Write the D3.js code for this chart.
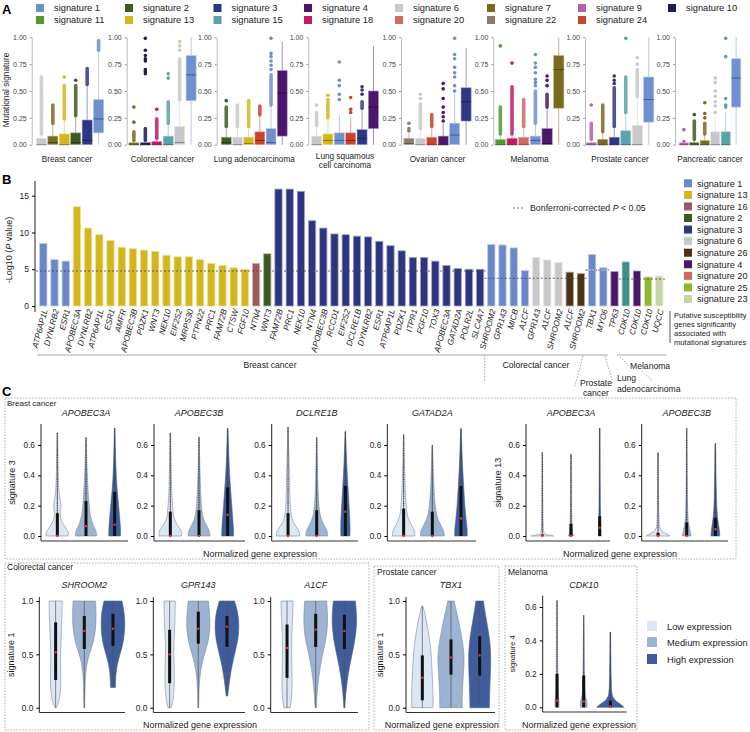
<!DOCTYPE html>
<html><head><meta charset="utf-8">
<script src="https://cdn.jsdelivr.net/npm/d3@7/dist/d3.min.js"></script>
<style>body{margin:0;background:#fff;} svg{display:block;}</style>
</head><body>
<script>
// ================= DATA =================
// Panel A
const legendRow1 = [1,2,3,4,6,7,9,10];
const legendRow2 = [11,13,15,18,20,22,24];
const aCancers = ["Breast cancer","Colorectal cancer","Lung adenocarcinoma","Lung squamous\ncell carcinoma","Ovarian cancer","Melanoma","Prostate cancer","Pancreatic cancer"];
const aSigs = [[6,7,13,2,3,1],[7,10,18,15,6,1],[2,6,13,24,1,4],[6,13,1,24,3,4],[22,6,24,4,1,3],[11,18,20,1,4,7],[9,7,3,15,6,1],[9,2,7,6,15,1]];
// [whiskerLow, q1, median, q3, whiskerHigh]
const aBoxes = [
 [[0,0,0,0.06,0.1],[0,0,0.02,0.08,0.2],[0,0,0,0.1,0.24],[0,0,0.02,0.11,0.27],[0,0,0.04,0.23,0.56],[0,0.11,0.24,0.42,0.88]],
 [[0,0,0,0.015,0.04],[0,0,0,0.02,0.04],[0,0,0,0.03,0.06],[0,0,0,0.08,0.2],[0,0,0.02,0.17,0.42],[0,0.41,0.65,0.83,1.0]],
 [[0,0,0.02,0.07,0.17],[0,0,0,0.07,0.17],[0,0,0.01,0.07,0.17],[0,0,0.04,0.12,0.28],[0,0,0.02,0.15,0.37],[0,0.08,0.48,0.69,0.96]],
 [[0,0,0,0.08,0.18],[0,0,0.04,0.1,0.25],[0,0,0.04,0.11,0.27],[0,0,0.04,0.11,0.25],[0,0,0.06,0.14,0.34],[0,0.15,0.35,0.5,0.92]],
 [[0,0,0.01,0.06,0.12],[0,0,0,0.06,0.15],[0,0,0,0.07,0.17],[0,0,0,0.08,0.2],[0,0,0.09,0.2,0.48],[0,0.22,0.4,0.53,0.9]],
 [[0,0,0,0.05,0.1],[0,0,0,0.06,0.1],[0,0,0,0.07,0.17],[0,0,0.04,0.08,0.2],[0,0,0.01,0.15,0.35],[0,0.34,0.7,0.83,1.0]],
 [[0,0,0,0.01,0.03],[0,0,0,0.05,0.12],[0,0,0,0.07,0.17],[0,0,0,0.13,0.3],[0,0,0,0.18,0.45],[0,0.21,0.42,0.63,1.0]],
 [[0,0,0,0.01,0.01],[0,0,0,0.02,0.05],[0,0,0,0.04,0.1],[0,0,0,0.12,0.25],[0,0,0,0.12,0.3],[0,0.35,0.62,0.8,1.0]]
];
// dense outlier runs [low, high]
const aBands = [
 [[0.1,0.63],[0.2,0.37],[0.24,0.55],[0.27,0.55],[0.56,0.71],[0.88,0.97]],
 [[0.04,0.12],[0.04,0.15],[0.06,0.24],[0.2,0.4],[0.42,0.8],null],
 [[0.17,0.35],[0.17,0.37],[0.17,0.41],[0.28,0.36],[0.37,0.65],null],
 [[0.18,0.3],[0.25,0.42],null,null,[0.34,0.4],null],
 [null,[0.15,0.38],[0.17,0.28],null,null,null],
 [[0.1,0.35],[0.1,0.54],[0.17,0.42],[0.2,0.5],[0.35,0.47],null],
 [[0.05,0.2],[0.12,0.37],[0.17,0.53],[0.3,0.63],[0.45,0.7],null],
 [null,[0.05,0.22],[0.1,0.2],null,null,null]
];
// isolated outliers
const aPoints = [
 [[],[],[0.63],[0.6],[],[]],
 [[0.21,0.35],[0.66,0.68,0.7,0.78,0.8,0.83,0.88,0.99],[0.33],[0.62,0.66],[0.88,0.92,0.96],[]],
 [[0.41],[],[],[],[0.7,0.74,0.78,0.82,0.85,0.99],[]],
 [[0.37],[0.46],[0.42,0.47,0.55,0.6,0.77],[0.3,0.33,0.44],[0.47,0.51,0.54],[]],
 [[0.13,0.15,0.2],[0.43,0.47],[],[0.22,0.26,0.3,0.35,0.43,0.52,0.57],[0.5,0.55,0.63,0.67,0.72,0.8,0.84,0.99],[]],
 [[0.92],[0.76],[],[0.55,0.58,0.61,0.67,0.72,0.76,0.84],[0.55,0.6,0.64],[]],
 [[0.37],[],[0.57,0.6,0.64],[0.99],[0.75,0.81],[]],
 [[0.03,0.14],[0.28],[0.25,0.29,0.39],[0.3,0.36,0.4,0.45,0.5,0.58,0.62],[0.35,0.37,0.43,0.82,0.99],[]]
];
const aTicks = [0,0.25,0.5,0.75,1];

// Panel B
const bGenes = ["ATP6AP1L","DYNLRB2","ESR1",
 "APOBEC3A","DYNLRB2","ATP6AP1L","ESR1","AMFR","APOBEC3B","PDZK1","WNT3","NEK10","EIF2S2","MRPS30","PTPN22","PRC1","FAM72B","CTSW","FGF10",
 "NTN4","WNT3",
 "FAM72B","PRC1","NEK10","NTN4","APOBEC3B","RCCD1","EIF2S2","DCLRE1B","DYNLRB2","ESR1","ATP6AP1L","PDZK1","ITPR1","FGF10","TOX3","APOBEC3A","GATAD2A","POLR2L","SLC4A7",
 "SHROOM2","GPR143","MICB","A1CF","GPR143","A1CF","SHROOM2","A1CF","SHROOM2",
 "TBX1","MYO6","TP63","CDK10","CDK10","CDK10","UQCC"];
const bSigs = [1,1,1,
 13,13,13,13,13,13,13,13,13,13,13,13,13,13,13,13,
 16,2,
 3,3,3,3,3,3,3,3,3,3,3,3,3,3,3,3,3,3,3,
 1,1,1,1,6,6,6,26,26,
 1,1,4,15,4,25,23];
const bValues = [8.5,6.3,6.1,
 13.5,10.6,9.7,8.9,8.0,7.8,7.6,7.4,6.9,6.7,6.7,6.3,5.8,5.5,5.2,5.0,
 5.8,7.1,
 15.9,15.9,15.6,11.6,10.6,9.8,9.7,9.5,9.4,8.8,8.2,7.5,6.6,6.6,6.1,5.5,5.1,5.0,5.0,
 8.35,8.3,7.9,4.8,6.6,6.25,5.9,4.6,4.4,
 7.0,5.2,4.67,6.0,4.76,3.95,4.08];
const bTicks = [0,5,10,15];
const bLegendSigs = [1,13,16,2,3,6,26,4,20,25,23];
const bGroupRanges = [[0,39],[40,48],[49,50],[51,51],[52,55]];
const bThresholds = [4.76,3.77,4.9,null,3.67];

// Panel C
const cLevels = ["Low expression","Medium expression","High expression"];
const cGenes = ["APOBEC3A","APOBEC3B","DCLRE1B","GATAD2A","APOBEC3A","APOBEC3B","SHROOM2","GPR143","A1CF","TBX1","CDK10"];
const cSigLabels = ["signature 3","","","","signature 13","","signature 1","","","signature 1","signature 4"];
const cGroups = ["Breast cancer","Colorectal cancer","Prostate cancer","Melanoma"];
// [min, q1, median, q3, max] per expression level
const cStats = [
 [[0,0,0,0.15,0.68],[0,0,0.065,0.23,0.65],[0,0,0.075,0.29,0.71]],
 [[0,0,0,0.16,0.68],[0,0,0,0.17,0.65],[0,0,0.14,0.32,0.71]],
 [[0,0,0,0.15,0.72],[0,0,0,0.17,0.65],[0,0,0.16,0.33,0.69]],
 [[0,0,0,0.18,0.67],[0,0,0,0.16,0.6],[0,0,0.115,0.33,0.71]],
 [[0,0,0,0.01,0.55],[0,0,0,0.08,0.54],[0,0,0.055,0.13,0.71]],
 [[0,0,0,0.02,0.55],[0,0,0,0.09,0.71],[0,0,0.045,0.12,0.61]],
 [[0,0.26,0.52,0.8,1],[0,0.55,0.72,0.86,1],[0.19,0.58,0.74,0.88,1]],
 [[0,0.23,0.5,0.73,1],[0,0.6,0.74,0.9,1],[0.11,0.57,0.76,0.86,1]],
 [[0,0.28,0.56,0.78,1],[0,0.57,0.73,0.88,1],[0,0.55,0.72,0.87,1]],
 [[0,0.07,0.28,0.49,0.95],[0,0.31,0.47,0.64,1],[0,0.3,0.49,0.67,1]],
 [[0,0,0.04,0.2,0.64],[0,0,0.035,0.19,0.55],[0,0,0.005,0.04,0.45]]
];
// density outline: [value, relative half-width]
const cShapes = [
 [[[0,0.85],[0.02,0.95],[0.05,0.7],[0.1,0.28],[0.15,0.2],[0.2,0.34],[0.25,0.18],[0.35,0.08],[0.5,0.06],[0.68,0.02]],
  [[0,0.85],[0.03,0.85],[0.08,0.5],[0.15,0.3],[0.25,0.2],[0.4,0.1],[0.5,0.07],[0.65,0.02]],
  [[0,0.47],[0.05,0.47],[0.1,0.42],[0.2,0.32],[0.3,0.2],[0.4,0.12],[0.55,0.06],[0.71,0.02]]],
 [[[0,0.9],[0.03,0.95],[0.07,0.55],[0.12,0.25],[0.17,0.22],[0.25,0.12],[0.4,0.08],[0.68,0.02]],
  [[0,0.87],[0.03,0.87],[0.07,0.6],[0.12,0.3],[0.2,0.18],[0.35,0.1],[0.5,0.05],[0.65,0.02]],
  [[0,0.47],[0.05,0.47],[0.12,0.4],[0.2,0.33],[0.3,0.24],[0.45,0.12],[0.6,0.06],[0.71,0.02]]],
 [[[0,0.93],[0.03,0.93],[0.07,0.55],[0.12,0.25],[0.2,0.18],[0.3,0.12],[0.38,0.15],[0.45,0.08],[0.72,0.02]],
  [[0,0.87],[0.03,0.87],[0.07,0.6],[0.12,0.3],[0.2,0.16],[0.35,0.08],[0.65,0.02]],
  [[0,0.36],[0.05,0.38],[0.12,0.35],[0.25,0.26],[0.4,0.15],[0.55,0.07],[0.69,0.02]]],
 [[[0,0.9],[0.03,0.9],[0.07,0.65],[0.12,0.3],[0.2,0.2],[0.3,0.13],[0.45,0.07],[0.67,0.02]],
  [[0,0.96],[0.03,0.96],[0.07,0.7],[0.12,0.38],[0.2,0.22],[0.35,0.1],[0.6,0.02]],
  [[0,0.5],[0.05,0.5],[0.1,0.42],[0.2,0.3],[0.35,0.2],[0.5,0.1],[0.71,0.02]]],
 [[[0,0.9],[0.005,0.6],[0.012,0.15],[0.03,0.04],[0.55,0.02]],
  [[0,0.2],[0.02,0.12],[0.1,0.05],[0.54,0.02]],
  [[0,0.1],[0.1,0.06],[0.3,0.04],[0.71,0.02]]],
 [[[0,0.95],[0.01,0.8],[0.025,0.35],[0.05,0.12],[0.1,0.05],[0.55,0.02]],
  [[0,0.35],[0.03,0.3],[0.08,0.12],[0.2,0.05],[0.71,0.02]],
  [[0,0.35],[0.04,0.33],[0.1,0.2],[0.2,0.08],[0.61,0.02]]],
 [[[0,0.05],[0.05,0.25],[0.15,0.4],[0.3,0.42],[0.45,0.38],[0.55,0.4],[0.7,0.45],[0.85,0.5],[0.95,0.52],[1,0.52]],
  [[0,0.03],[0.15,0.05],[0.3,0.08],[0.42,0.22],[0.5,0.4],[0.6,0.7],[0.72,0.9],[0.85,0.95],[0.95,0.92],[1,0.9]],
  [[0.19,0.2],[0.25,0.2],[0.35,0.26],[0.45,0.42],[0.55,0.7],[0.65,0.88],[0.78,0.97],[0.9,0.9],[1,0.72]]],
 [[[0,0.12],[0.08,0.3],[0.2,0.38],[0.35,0.38],[0.5,0.32],[0.65,0.35],[0.8,0.42],[0.95,0.45],[1,0.45]],
  [[0,0.03],[0.15,0.05],[0.3,0.12],[0.42,0.3],[0.52,0.55],[0.62,0.8],[0.75,0.95],[0.88,0.92],[1,0.8]],
  [[0.11,0.06],[0.2,0.15],[0.32,0.28],[0.45,0.5],[0.58,0.78],[0.7,0.96],[0.82,0.95],[0.92,0.82],[1,0.6]]],
 [[[0,0.25],[0.1,0.38],[0.25,0.42],[0.4,0.38],[0.55,0.36],[0.7,0.38],[0.85,0.45],[0.95,0.48],[1,0.48]],
  [[0,0.05],[0.12,0.1],[0.25,0.2],[0.38,0.35],[0.5,0.55],[0.62,0.8],[0.75,0.95],[0.88,0.95],[1,0.88]],
  [[0,0.04],[0.12,0.1],[0.25,0.22],[0.38,0.4],[0.5,0.62],[0.65,0.88],[0.8,1],[0.92,0.95],[1,0.88]]],
 [[[0,0.85],[0.1,0.86],[0.25,0.82],[0.4,0.76],[0.55,0.68],[0.7,0.5],[0.8,0.35],[0.9,0.17],[0.95,0.06]],
  [[0,0.9],[0.1,0.9],[0.25,0.95],[0.4,1.05],[0.5,1.05],[0.6,0.95],[0.75,0.72],[0.9,0.45],[1,0.25]],
  [[0,0.78],[0.15,0.8],[0.3,0.85],[0.45,0.9],[0.6,0.85],[0.75,0.65],[0.88,0.45],[1,0.3]]],
 [[[0,0.15],[0.03,0.18],[0.06,0.12],[0.1,0.08],[0.2,0.06],[0.4,0.04],[0.64,0.02]],
  [[0,0.25],[0.03,0.3],[0.06,0.15],[0.1,0.08],[0.2,0.05],[0.55,0.02]],
  [[0,1.1],[0.015,0.9],[0.035,0.45],[0.06,0.18],[0.1,0.06],[0.45,0.02]]]
];

// ================= STYLES =================
const FONT = "'Liberation Sans', Arial, Helvetica, sans-serif";
const aColors = {1:"#6f8fd0",2:"#405a26",3:"#2e3882",4:"#4b176c",6:"#c8c8c8",7:"#776b1e",9:"#b45fa8",10:"#1d1c4f",11:"#4e9b2e",13:"#d6b71a",15:"#5aa3a8",18:"#c41866",20:"#d0695f",22:"#8b7b6a",24:"#c8442a"};
const bColors = {1:"#6b87c9",13:"#d4b51c",16:"#9a5a5e",2:"#3d5a22",3:"#2e3580",6:"#c8c8c8",26:"#4a3118",4:"#4a156b",20:"#d06a60",25:"#8db830",23:"#c7d4a6",15:"#3f8f88"};
const cFill = ["#dde6f3","#9cb3d2","#3f5d9d"];

const svg = d3.select("body").append("svg").attr("width",750).attr("height",732).attr("font-family",FONT);

function T(x,y,s,size,o){
  o=o||{};
  const t=svg.append("text").attr("x",x).attr("y",y).attr("font-size",size).attr("fill",o.fill||"#222").text(s);
  if(o.anchor) t.attr("text-anchor",o.anchor);
  if(o.italic) t.attr("font-style","italic");
  if(o.bold) t.attr("font-weight","bold");
  if(o.rot!==undefined) t.attr("transform",`rotate(${o.rot},${x},${y})`);
  return t;
}

// ---------- Panel letters ----------
T(2,14,"A",13,{bold:true,fill:"#000"});
T(2,184,"B",13,{bold:true,fill:"#000"});
T(2,396,"C",13,{bold:true,fill:"#000"});

// ---------- Panel A legend ----------
const legX = [36,125,213.5,304,395,487,578,668];
[legendRow1,legendRow2].forEach((row,ri)=>{
  const yc = ri===0?8:20;
  row.forEach((s,i)=>{
    svg.append("rect").attr("x",legX[i]).attr("y",yc-4).attr("width",8).attr("height",8).attr("fill",aColors[s]);
    T(legX[i]+18,yc+3.3,"signature "+s,9.3);
  });
});

// ---------- Panel A boxplots ----------
const aY = d3.scaleLinear().domain([0,1]).range([144.7,37.3]);
const aLayout = [[31.7,35,105],[126.7,127.5,197.5],[216.7,220,288.5],[308.3,310.2,379.8],[401,402.5,472.5],[493.3,493.8,565.3],[585,584.8,655.2],[675,678,742]];
aCancers.forEach((name,i)=>{
  const [ax,r0,r1]=aLayout[i];
  const ga = svg.append("g").attr("transform",`translate(${ax},0)`)
    .call(d3.axisLeft(aY).tickValues(aTicks).tickFormat(d3.format(".2f")).tickSize(2).tickSizeOuter(0));
  ga.select(".domain").attr("stroke","#bbb");
  ga.selectAll(".tick line").attr("stroke","#999");
  ga.selectAll(".tick text").attr("font-size",7).attr("fill","#444").attr("font-family",FONT);
  const xb = d3.scaleBand().domain(d3.range(6)).range([r0,r1]).padding(0.12);
  aSigs[i].forEach((s,j)=>{
    const c = aColors[s];
    const light = d3.interpolateRgb(c,"#fff")(0.5);
    const cx = xb(j)+xb.bandwidth()/2, bw = xb.bandwidth();
    const [wl,q1,md,q3,wh] = aBoxes[i][j];
    svg.append("line").attr("x1",cx).attr("x2",cx).attr("y1",aY(wl)).attr("y2",aY(wh)).attr("stroke",light).attr("stroke-width",1);
    const band = aBands[i][j];
    if(band){
      svg.append("line").attr("x1",cx).attr("x2",cx).attr("y1",aY(band[0])).attr("y2",aY(band[1]))
        .attr("stroke",c).attr("stroke-width",3.6).attr("stroke-linecap","round").attr("opacity",0.85);
    }
    aPoints[i][j].forEach(v=>{
      svg.append("circle").attr("cx",cx).attr("cy",aY(v)).attr("r",1.8).attr("fill",c);
    });
    const yTop = aY(q3), h = Math.max(aY(q1)-aY(q3),2);
    svg.append("rect").attr("x",cx-bw/2).attr("y",Math.min(yTop,aY(q1)-2)).attr("width",bw).attr("height",h)
      .attr("fill",c).attr("stroke",light).attr("stroke-width",0.6);
    svg.append("line").attr("x1",cx-bw/2).attr("x2",cx+bw/2).attr("y1",aY(md)).attr("y2",aY(md))
      .attr("stroke",d3.color(c).darker(1.2)).attr("stroke-width",1);
  });
  const lines = name.split("\n");
  const cxl = (r0+r1)/2 + (i===0?-3:0);
  lines.forEach((l,k)=>{
    const y = lines.length===1 ? 162 : 158.7+k*9.5;
    T(cxl,y,l,8.2,{anchor:"middle"});
  });
});
T(9,90,"Mutational signature",8.3,{anchor:"middle",rot:-90});

// ---------- Panel B ----------
const bY = d3.scaleLinear().domain([0,17]).range([306,181]);
const bX = d3.scaleBand().domain(d3.range(bGenes.length)).range([37.7,37.7+11.2*bGenes.length]).paddingInner(0.35).paddingOuter(0.175);
svg.append("line").attr("x1",35).attr("x2",35).attr("y1",181).attr("y2",312).attr("stroke","#222").attr("stroke-width",1);
const gyB = svg.append("g").attr("transform","translate(35,0)")
  .call(d3.axisLeft(bY).tickValues(bTicks).tickSize(3).tickSizeOuter(0));
gyB.select(".domain").remove();
gyB.selectAll(".tick text").attr("font-size",8.5).attr("fill","#222").attr("font-family",FONT);
const yt = svg.append("text").attr("x",12).attr("y",250).attr("font-size",9).attr("fill","#222")
  .attr("text-anchor","middle").attr("transform","rotate(-90,12,250)");
yt.append("tspan").text("-Log10 (");
yt.append("tspan").attr("font-style","italic").text("P");
yt.append("tspan").text(" value)");

bGenes.forEach((g,i)=>{
  const c = bColors[bSigs[i]];
  svg.append("rect").attr("x",bX(i)).attr("y",bY(bValues[i])).attr("width",bX.bandwidth()).attr("height",bY(0)-bY(bValues[i]))
    .attr("fill",c).attr("stroke",d3.interpolateRgb(c,"#fff")(0.55)).attr("stroke-width",0.8);
  const cx = bX(i)+bX.bandwidth()/2;
  T(cx+4.5,310,g,8.2,{anchor:"end",italic:true,rot:-75});
});
// thresholds
bGroupRanges.forEach((r,k)=>{
  const th = bThresholds[k];
  if(th===null) return;
  let x1 = k===0 ? 36 : bX(r[0])-3;
  let x2 = bX(r[1])+bX.bandwidth()+2;
  const ln = svg.append("line").attr("x1",x1).attr("x2",x2).attr("y1",bY(th)).attr("y2",bY(th));
  if(k===2) ln.attr("stroke","#aaa").attr("stroke-width",2).attr("stroke-dasharray","2,1.2");
  else ln.attr("stroke","#444").attr("stroke-width",0.8).attr("stroke-dasharray","2,2");
});
// legend B
svg.append("line").attr("x1",513).attr("x2",523).attr("y1",208).attr("y2",208).attr("stroke","#444").attr("stroke-width",0.8).attr("stroke-dasharray","2,2");
const bt = svg.append("text").attr("x",530).attr("y",211).attr("font-size",8.8).attr("fill","#222");
bt.append("tspan").text("Bonferroni-corrected ");
bt.append("tspan").attr("font-style","italic").text("P");
bt.append("tspan").text(" < 0.05");
bLegendSigs.forEach((s,i)=>{
  const yc = 183.3+i*11.57;
  svg.append("rect").attr("x",684).attr("y",yc-4).attr("width",8).attr("height",8).attr("fill",bColors[s]);
  T(697,yc+3.3,"signature "+s,9.2);
});
svg.append("line").attr("x1",670).attr("x2",670).attr("y1",311).attr("y2",343).attr("stroke","#333").attr("stroke-width",0.8);
["Putative susceptibility","genes significantly","associated with","mutational signatures"].forEach((l,k)=>{
  T(674,317.5+k*9.2,l,7.6);
});
// group brackets
const gl = (x1,y1,x2,y2,dash)=>{
  const l=svg.append("line").attr("x1",x1).attr("x2",x2).attr("y1",y1).attr("y2",y2).attr("stroke",dash?"#888":"#aaa").attr("stroke-width",dash?0.8:1.2);
  if(dash) l.attr("stroke-dasharray","1.5,1.5");
};
const bEnd = i => bX(i)+bX.bandwidth();
gl(37,355,bEnd(39)+1,355,false);
gl(bEnd(39)+1,355,bEnd(50)+1,355,false);
gl(bX(52)-5,355,bEnd(55)+3,355,false);
gl(bEnd(39)+1,355,bEnd(39)+1,381,true);
gl(583,356,575,386,true);
gl(605,356,613,383,true);
gl(620,357,629,366,true);
gl(642,371,653,381,true);
T(270,368,"Breast cancer",8.6,{anchor:"middle"});
T(536,368,"Colorectal cancer",8.6,{anchor:"middle"});
T(630,369,"Melanoma",8.6);
T(580,386,"Prostate",8.6);
T(583,395.5,"cancer",8.6);
T(617,381,"Lung",8.6);
T(617,392,"adenocarcinoma",8.6);

// ---------- Panel C ----------
function dottedBox(x,y,w,h){
  svg.append("rect").attr("x",x).attr("y",y).attr("width",w).attr("height",h).attr("fill","none")
    .attr("stroke","#999").attr("stroke-width",0.8).attr("stroke-dasharray","1.5,1.5");
}
dottedBox(5,398,731,161);
dottedBox(5,563,364,167);
dottedBox(374,566,125,164);
dottedBox(505,566,132,164);
T(7,405.5,cGroups[0],8);
T(7,570,cGroups[1],8.5);
T(377,575,cGroups[2],8.5);
T(508,575,cGroups[3],8.5);

const cRows = [
  {y:d3.scaleLinear().domain([0,0.6]).range([536,445]), ticks:[0,0.2,0.4,0.6], top:424, base:541, dots:true, title:416},
  {y:d3.scaleLinear().domain([0,1]).range([707.7,601]), ticks:[0,0.5,1], top:597, base:712.5, dots:false, title:587.5},
  {y:d3.scaleLinear().domain([0,1]).range([707.7,601]), ticks:[0,0.5,1], top:597, base:712.5, dots:false, title:587.5},
  {y:d3.scaleLinear().domain([0,0.6]).range([707.3,607]), ticks:[0,0.2,0.4,0.6], top:595.7, base:712, dots:true, title:587.5}
];
// [row, axisX, bandOffset, bandWidth, axisLength, yTitleX, titleSize]
const cLayout = [
  [0,41,2,86,87,15,9],[0,154,2,86,91,0,9],[0,271.7,2,86,86.3,0,9],[0,387.3,2,86,88.7,0,9],[0,526,2,86,84,500.5,9],[0,641.7,2,86,86.3,0,9],
  [1,39.3,2,86,85.7,14,9],[1,153.3,2,86,91.7,0,9],[1,270.7,2,86,87.3,0,9],[2,406,2,86,89,383,9],[3,542.7,1,80,84,515,7.5]
];
const maxHalf = 12.5;
cGenes.forEach((gene,p)=>{
  const [ri,ax,off,bwid,alen,ytx,yts] = cLayout[p];
  const R = cRows[ri];
  svg.append("line").attr("x1",ax).attr("x2",ax).attr("y1",R.top).attr("y2",R.base).attr("stroke","#222").attr("stroke-width",1);
  svg.append("line").attr("x1",ax).attr("x2",ax+alen).attr("y1",R.base).attr("y2",R.base).attr("stroke","#333").attr("stroke-width",1.2);
  const ga = svg.append("g").attr("transform",`translate(${ax},0)`)
    .call(d3.axisLeft(R.y).tickValues(R.ticks).tickFormat(d3.format(".1f")).tickSize(3).tickSizeOuter(0));
  ga.select(".domain").remove();
  ga.selectAll(".tick text").attr("font-size",8.3).attr("fill","#222").attr("font-family",FONT);
  if(cSigLabels[p]) T(ytx,(R.top+R.base)/2,cSigLabels[p],yts,{anchor:"middle",rot:-90});
  const xb = d3.scaleBand().domain([0,1,2]).range([ax+off,ax+off+bwid]);
  T(ax+off+bwid/2,R.title,gene,9,{anchor:"middle",italic:true});
  cStats[p].forEach((st,lv)=>{
    const cx = xb(lv)+xb.bandwidth()/2;
    const area = d3.area().curve(d3.curveBasis)
      .y(d=>R.y(d[0])).x0(d=>cx-d[1]*maxHalf).x1(d=>cx+d[1]*maxHalf);
    svg.append("path").attr("d",area(cShapes[p][lv])).attr("fill",cFill[lv])
      .attr("stroke",lv===2?"#4a5f8a":"#7d8aa0").attr("stroke-width",0.6);
    const [mn,q1,md,q3,mx] = st;
    svg.append("line").attr("x1",cx).attr("x2",cx).attr("y1",R.y(mn)).attr("y2",R.y(mx)).attr("stroke","#555").attr("stroke-width",0.7);
    if(R.dots){
      svg.append("line").attr("x1",cx).attr("x2",cx).attr("y1",R.y(q3)).attr("y2",R.y(mx))
        .attr("stroke","#333").attr("stroke-width",1.1).attr("stroke-dasharray","0.8,1.6");
    }
    svg.append("rect").attr("x",cx-1.5).attr("y",R.y(q3)).attr("width",3).attr("height",Math.max(R.y(q1)-R.y(q3),1)).attr("fill","#111");
    svg.append("circle").attr("cx",cx).attr("cy",R.y(md)).attr("r",1.2).attr("fill","#e53b2f");
  });
});
T(260,556.5,"Normalized gene expression",9,{anchor:"middle"});
T(620,556.5,"Normalized gene expression",9,{anchor:"middle"});
T(200,728,"Normalized gene expression",9,{anchor:"middle"});
T(441.7,727.5,"Normalized gene expression",9,{anchor:"middle"});
T(579,727.5,"Normalized gene expression",9,{anchor:"middle"});
// C legend
cLevels.forEach((l,i)=>{
  const yc = [626,642,659][i];
  svg.append("rect").attr("x",647).attr("y",yc-5).attr("width",10).attr("height",10).attr("fill",cFill[i]);
  T(667,yc+3.5,l,9.3);
});
</script>
</body></html>
